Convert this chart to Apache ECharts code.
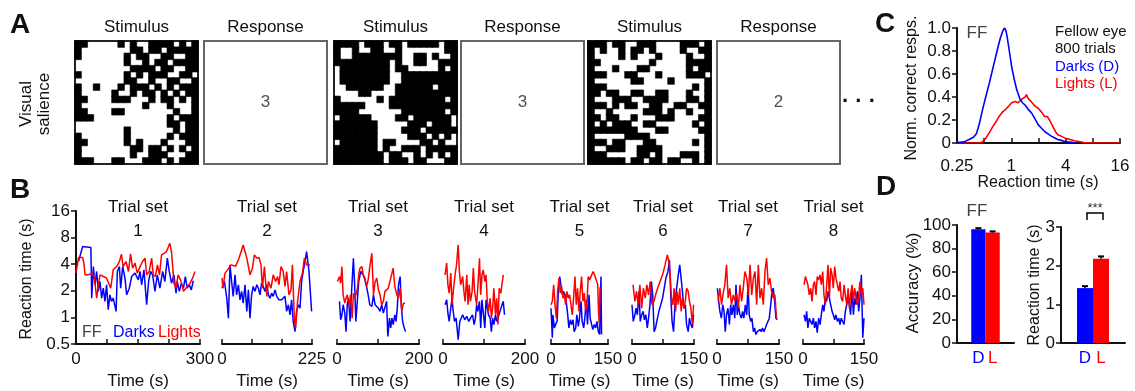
<!DOCTYPE html>
<html>
<head>
<meta charset="utf-8">
<script src="https://cdn.jsdelivr.net/npm/echarts@6.0.0/dist/echarts.min.js"></script>
<style>
  html, body { margin: 0; padding: 0; background: #fff; }
  #chart { width: 1135px; height: 391px; }
</style>
</head>
<body>
<div id="chart"></div>
<script>
// ---------- panel A: stimulus patterns (1 = black cell) and typed responses ----------
const stimulus1 = [
  "11000001010011110101", "10000000011011011111", "10000000101100110011", "00000000100101101111",
  "00000000011110110011", "10000000101011100110", "00000000110010011001", "10010001011101010111",
  "10000010010110101011", "11000011100010110101", "10000000000100010001", "11000011000000001001",
  "11100000000000010111", "00000000000000011011", "00000000100000001011", "10000000100000010111",
  "11000000101000100011", "10000000011011010101", "10000000010011100011", "11100011000111010111"
];
const stimulus2 = [
  "11110111011011111011", "10010011001000000011", "10011111111001101001", "11111111101001100111",
  "01111111101100000101", "01111111100111111111", "01111111100111111111", "00111111001111110111",
  "00001100001111111111", "10000001011111111101", "11111000011111111111", "11110000000111111101",
  "01111100001101111110", "11111110000011101110", "11111110000111011111", "11111110000011101010",
  "01111110110000110100", "11111110100111011111", "11111111011001010101", "11111111011101100011"
];
const stimulus3 = [
  "11101100111000011101", "10100101101000010011", "10000101000100001001", "11000000001000001111",
  "10001000110000001011", "11100011000100001110", "10000001100001000001", "11100000000000000101",
  "11011001100110001001", "10001110011110001101", "11101011001100110011", "10010000011101001001",
  "11011001000111000011", "10101110011000000101", "11111111000110000011", "10000011110000000001",
  "11101100011000000101", "10011100111100000001", "11100000110100011101", "11111101101101100101"
];
const responses = ["3", "3", "2"];

// ---------- panel B: reaction time (s) vs time (s) per trial set ----------
const trialSetDurations = [300, 225, 200, 200, 150, 150, 150, 150];
const trialSetTickSteps = [75, 75, 100, 100, 75, 75, 75, 75];

const darks1 = [[6,4.29],[16,6.33],[36,6.2],[38,1.65],[42,3.76],[46,2.34],[50,3.31],[54,1.97],[58,2.55],[62,1.65],[66,2.14],[70,1.52],[74,2.34],[78,1.22],[82,1.8],[86,1.52],[90,1.65],[97,1.17],[100,3.31],[105,3.76],[108,2.14],[113,3.76],[118.5,2.78],[122.5,1.8],[129,2.14],[134.6,2.9],[142.7,3.17],[150.7,2.66],[154.8,3.31],[158.8,2.34],[164.4,3.45],[170.9,1.39],[175.7,2.55],[180.5,3.31],[185.4,3.03],[191,1.97],[196.7,3.03],[203,2.14],[209.6,3.31],[215,2.55],[221,4.68],[225.7,3.31],[231,2.44],[237,3.03],[242,1.88],[245,2.55],[250,1.97],[255,2.44],[260,2.14],[264.5,2.9],[269,2.14],[274,2.34],[279,2.05],[283.7,2.6]];
const lights1 = [[0,3.17],[6,4.76],[16,4.76],[19,4.11],[22,3.03],[30,3.03],[38,3.17],[44,2.9],[50,1.65],[54,2.34],[58,3.03],[66,2.9],[74,2.78],[84,2.14],[90,3.45],[98,3.76],[105,4.29],[110,5.19],[114,3.76],[121,4.29],[127,3.31],[132,5.23],[137,3.61],[143,4.11],[148,3.17],[155,3.76],[161,4.29],[167,4.68],[171,3.03],[177,3.31],[183,4.68],[187,3.03],[192,2.9],[197,3.93],[202,3.03],[207,5.1],[213,5.32],[219,5.56],[227,6.9],[231,5.56],[237,2.44],[242,2.14],[247,3.03],[253,2.66],[260,1.97],[264,2.05],[269,2.24],[276,2.44],[282,2.78],[288,3.31]];

const darks2 = [[0,2.14],[6,2.55],[12,1.65],[16,0.98],[20,3.93],[24,2.55],[28,1.73],[32.5,3.03],[36.5,1.8],[41,2.34],[45,1.58],[49,1.97],[53,1.45],[57.5,2.34],[62,1.17],[66,2.05],[70,0.98],[74,1.8],[78,2.24],[82.5,1.97],[87,2.34],[91,2.14],[95,1.8],[99,2.44],[103,2.24],[107.5,1.97],[112,2.34],[116,1.8],[120,1.65],[124,1.88],[128,1.73],[132.5,2.05],[137,1.73],[142.5,1.58],[149,1.58],[153,1.52],[157.5,1.73],[161.5,1.17],[166,1.39],[170,1.07],[174,1.58],[178,0.9],[182.5,0.69],[186.5,1.17],[191,1.39],[195,1.27],[199,2.55],[203,3.31],[207.5,4.29],[211.5,5.56],[217.5,3.31],[224,1.17]];
const lights2 = [[0,2.8],[2.5,2.14],[7.5,3.17],[14,3.45],[22.5,3.93],[34,3.8],[42.5,4.68],[53,6.6],[62,4.68],[70,3.03],[76,3.61],[81,5.1],[87,4.68],[92.5,4.76],[97.5,3.93],[101,2.14],[106,3.76],[112,1.73],[116,2.55],[122.5,2.14],[128,3.03],[134,2.55],[139,2.9],[142.5,2.34],[147.5,3.76],[153,3.31],[157.5,2.24],[161.5,3.31],[167.5,1.8],[172.5,2.05],[176,3.93],[181,0.94],[184,0.76],[189,1.52],[195,2.55],[201,3.17],[206,4.68],[211.5,3.93],[220,3.93]];

const darks3 = [[6,1.52],[9,0.94],[12,1.07],[15,1.39],[19,1.12],[22,0.69],[25,1.39],[28,1.65],[32,0.9],[36,2.14],[40,4.68],[43,2.34],[46,0.9],[50,1.65],[53,2.55],[58,3.31],[61,3.45],[64,3.03],[68,2.66],[72,2.24],[76,1.8],[80,1.39],[85,1.33],[89,1.8],[93,1.39],[97,1.33],[101,1.27],[105,1.17],[109,1.39],[113,1.12],[117,1.17],[121,1.52],[124,0.61],[128,0.98],[131,0.76],[134,0.98],[137,0.83],[141,1.07],[144,0.9],[147,1.27],[150,2.34],[154,2.9],[157,1.33],[160,0.9],[163,0.79],[167,0.69]];
const lights3 = [[1,2.55],[6,2.9],[9,2.44],[12,3.76],[15,1.8],[19,1.45],[22,1.65],[25,1.8],[30,1.39],[33,1.8],[37,0.98],[40,1.88],[43,1.65],[46,1.8],[50,2.14],[53,3.03],[56,3.61],[61,3.76],[64,3.03],[68,2.78],[72,2.24],[76,2.66],[80,3.76],[85,5.32],[89,1.8],[93,2.55],[97,2.78],[101,2.05],[105,1.8],[109,1.39],[113,1.52],[117,1.97],[121,1.88],[125,2.14],[129,2.24],[133,3.03],[137,3.61],[141,2.24],[146,1.8],[150,1.65],[154,2.14],[158,1.17],[162,1.45],[166,1.45]];

const darks4 = [[5,1.39],[9,1.58],[12,1.12],[15,0.9],[19,1.27],[22,1.65],[25,1.17],[28,0.9],[32,0.98],[37,0.56],[41,0.9],[48,1.07],[53,0.94],[58,1.03],[63,0.9],[67,0.98],[72,1.07],[76,0.83],[79,0.98],[82,1.39],[85,1.17],[89,1.52],[92,0.76],[95,1.58],[98,1.65],[102,0.76],[105,1.58],[108,1.65],[111,1.07],[115,0.98],[118,0.69],[121,0.98],[124,0.83],[128,1.07],[131,0.9],[134,0.98],[139,1.17],[144,1.39],[147,1.52],[150,1.07]];
const lights4 = [[5,3.03],[9,4.11],[12,2.34],[15,1.88],[19,3.17],[22,1.39],[25,1.97],[30,3.17],[33,3.93],[37,6.61],[40,3.31],[43,2.34],[48,2.9],[51,1.97],[54,1.52],[58,3.03],[61,1.39],[64,2.34],[67,1.52],[71,1.97],[74,3.61],[77,1.97],[82,1.39],[85,2.24],[89,4.68],[92,1.8],[95,3.03],[98,3.45],[102,2.55],[105,3.03],[108,1.52],[111,1.17],[115,1.65],[118,0.98],[121,1.27],[124,2.14],[128,1.07],[131,1.65],[134,0.83],[137,2.14],[141,1.88],[144,1.97],[147,3.03]];

const darks5 = [[0,1.27],[3.5,0.59],[5,1.07],[9,0.76],[12,0.83],[16,0.9],[19,1.8],[23,2.9],[26,2.34],[30,1.8],[33,1.97],[37,1.8],[40,1.52],[44,1.07],[47,0.76],[51,0.94],[54,0.83],[58,0.94],[61,0.69],[65,0.76],[68,1.07],[72,0.79],[75,0.98],[79,1.52],[82,0.9],[86,0.76],[89,0.98],[93,1.58],[96,0.83],[100,1.8],[103,0.98],[107,0.83],[110,0.73],[114,0.83],[117.5,0.76],[121,0.9],[124.5,0.69],[128,0.64],[131.5,2.9],[133,0.64]];
const lights5 = [[0,1.39],[3.5,1.52],[7,2.34],[10.5,1.39],[14,0.98],[17.5,1.97],[21,2.78],[24.5,1.88],[28,2.24],[31.5,1.65],[35,1.8],[38.5,1.39],[42,1.97],[45.5,1.65],[49,1.8],[52.5,1.39],[56,1.07],[59.5,1.65],[63,2.9],[66.5,1.39],[70,2.14],[73.5,1.17],[77,1.97],[80.5,2.9],[84,1.52],[87.5,1.88],[91,1.17],[94.5,1.39],[98,2.9],[101.5,2.66],[107,3.03],[111,3.31],[116,2.9],[120,2.78],[123,2.34],[125,1.2],[127,0.85],[129,2.2]];

const darks6 = [[0,1.39],[3,0.9],[7,1.07],[10,1.27],[13,1.07],[17,1.97],[20,0.9],[23.5,1.07],[27,1.17],[30,0.94],[33.5,1.07],[37,0.76],[40,0.98],[43.5,1.39],[47,2.55],[50,1.8],[53.5,0.69],[57,0.76],[60,0.9],[65,1.17],[74,1.65],[82,2.78],[87,3.31],[90.5,4.48],[94,1.65],[97,0.9],[100.5,0.69],[104,1.39],[107,1.97],[112,3.03],[115.5,3.93],[119,4.11],[122,1.97],[125.5,1.27],[129,1.39],[132,0.83],[136,0.69],[139,0.98],[142.5,0.83],[146,0.76],[149,1.07]];
const lights6 = [[2.5,2.34],[7,1.52],[11,1.97],[15,1.39],[19,2.34],[23.5,1.27],[27.5,2.14],[32,1.65],[36,2.34],[40,1.8],[44,2.55],[48.5,1.39],[53,1.52],[57,1.8],[65,2.34],[74,3.03],[80,3.93],[85.5,5.1],[89,4.29],[92,3.31],[95.5,1.65],[99,1.39],[102,2.14],[105.5,1.17],[109,1.97],[112,1.39],[115.5,2.14],[119,1.17],[122,1.65],[125.5,1.27],[129,1.52],[132,2.14],[136,1.97],[139,1.52],[142.5,1.27],[146,0.83],[149,1.39]];

const darks7 = [[1,2.14],[4,1.52],[7,1.17],[10.5,0.98],[14,1.39],[17,1.17],[20,0.69],[23,1.07],[26.5,1.27],[30,0.83],[33,1.39],[36,1.07],[39.5,1.39],[43,0.98],[46,2.34],[49,1.07],[52,1.39],[55.5,1.07],[59,0.98],[62,1.17],[65,0.98],[68.5,1.39],[72,1.07],[75,2.34],[78,1.07],[81.5,0.9],[84.5,0.98],[88,0.69],[91,0.76],[94,0.64],[97.5,0.69],[101,0.67],[104,0.73],[107,0.69],[110,0.76],[113.5,0.69],[117,0.76],[120,0.83],[123,0.86],[126.5,0.98],[130,1.39],[133,1.97],[136,2.14],[139.5,1.52],[142.5,0.98],[146,0.94]];
const lights7 = [[3,1.52],[7,2.14],[11,1.39],[15,1.88],[19,2.34],[23,3.93],[27,1.65],[31,2.14],[35,1.39],[39.5,1.8],[43.5,1.52],[47.5,1.88],[51.5,1.27],[55.5,2.34],[59.5,1.52],[63.5,2.14],[67.5,3.31],[72,2.78],[76,1.8],[80,3.93],[84,1.8],[88,2.78],[92,3.31],[96,1.39],[100,3.93],[104,1.65],[108,2.14],[112,1.39],[116,3.31],[120,4.68],[124,2.34],[128,2.78],[132,1.97],[136,1.65],[140,1.8],[144,0.98]];

const darks8 = [[2.5,1.07],[6,0.9],[9,1.17],[12,0.76],[15.5,0.98],[19,0.9],[22,0.83],[25.5,0.98],[28.5,0.76],[32,0.9],[35,0.67],[38.5,0.98],[42,0.83],[45,1.07],[48.5,1.39],[51.5,1.17],[55,1.65],[58,1.52],[61.5,1.97],[65,1.65],[68,1.39],[71.5,1.17],[74.5,1.07],[78,0.94],[81,1.07],[84.5,0.9],[88,0.98],[91,0.83],[94,0.98],[97.5,0.9],[101,0.83],[104,1.17],[107.5,1.39],[111,1.65],[114,1.39],[117,1.07],[120.5,2.14],[124,1.07],[127,1.65],[130.5,1.39],[133.5,1.97],[137,1.17],[140,1.65],[143.5,3.03],[147,0.59],[150,0.98]];
const lights8 = [[2.5,2.34],[6,2.9],[9,3.03],[12,2.34],[15.5,1.8],[19,2.14],[22,1.52],[25.5,2.34],[28.5,2.55],[32,1.8],[35,2.9],[38.5,2.66],[42,3.03],[45,2.34],[48.5,3.31],[51.5,1.8],[55,1.39],[58,2.24],[61.5,3.93],[65,1.65],[68,3.61],[71.5,3.03],[74.5,2.14],[78,3.76],[81,2.78],[84.5,2.34],[88,1.97],[91,2.55],[94,1.65],[97.5,1.52],[101,2.34],[104,1.8],[107.5,1.39],[111,2.14],[114,1.27],[117,1.8],[120.5,2.34],[124,1.52],[127,2.14],[130.5,1.65],[133.5,1.39],[137,1.8],[140,2.55],[143.5,1.8],[147,2.14],[150,1.39]];

// ---------- panel C: normalised correct responses vs reaction time (s) ----------
const distDarks = [[0.25,0.005],[0.3,0.01],[0.34,0.03],[0.38,0.05],[0.41,0.08],[0.44,0.16],[0.48,0.29],[0.52,0.4],[0.57,0.52],[0.62,0.64],[0.67,0.75],[0.72,0.85],[0.76,0.92],[0.8,0.97],[0.84,1.0],[0.87,0.98],[0.9,0.92],[0.95,0.8],[1.01,0.66],[1.08,0.55],[1.15,0.46],[1.25,0.38],[1.33,0.35],[1.42,0.33],[1.55,0.29],[1.68,0.26],[1.83,0.21],[1.98,0.16],[2.15,0.13],[2.34,0.1],[2.55,0.08],[2.77,0.06],[3.0,0.045],[3.26,0.03],[3.5,0.025],[3.85,0.015],[4.2,0.01],[4.5,0.008],[5.2,0.0]];
const distLights = [[0.25,0],[0.45,0],[0.48,0.01],[0.52,0.04],[0.57,0.09],[0.62,0.14],[0.67,0.18],[0.73,0.23],[0.8,0.27],[0.86,0.29],[0.93,0.32],[1.01,0.35],[1.1,0.36],[1.19,0.35],[1.3,0.38],[1.42,0.4],[1.47,0.42],[1.53,0.39],[1.6,0.38],[1.7,0.35],[1.83,0.32],[2.0,0.3],[2.2,0.26],[2.34,0.23],[2.5,0.23],[2.65,0.2],[2.77,0.17],[2.95,0.13],[3.13,0.09],[3.3,0.07],[3.55,0.06],[4.0,0.04],[4.5,0.03],[5.0,0.02],[5.4,0.015],[6.4,0.005],[7.5,0],[16,0]];

// ---------- panel D: accuracy and mean reaction time ----------
const conditions = ["D", "L"];
const accuracyMean = [96.3, 93.6];
const accuracySem = [1.0, 1.0];
const rtMean = [1.42, 2.18];
const rtSem = [0.05, 0.06];

const BLUE = "#0000ff";
const RED = "#ff0000";
const INK = "#111";
const FONT = '"Liberation Sans", Arial, Helvetica, sans-serif';

const chart = echarts.init(document.getElementById("chart"), null, { renderer: "canvas" });

const grids = [];
const xAxes = [];
const yAxes = [];
const series = [];
const graphics = [];

function text(str, x, y, opt) {
  opt = opt || {};
  return {
    type: "text", x, y, silent: true,
    rotation: opt.rotate ? Math.PI / 2 : 0,
    style: {
      text: str,
      font: (opt.bold ? "bold " : "") + (opt.size || 17) + "px " + FONT,
      fill: opt.color || INK,
      align: opt.align || "center",
      verticalAlign: "middle"
    }
  };
}

// ---- A ----
const boxLefts = [75, 204, 334, 461, 588, 717];
const boxTop = 41, boxSize = 123;
const stimuli = [stimulus1, stimulus2, stimulus3];
const cellIdx = Array.from({ length: 20 }, (_, i) => i);
const heatmapSeries = [];
boxLefts.forEach((left, i) => {
  const isStim = i % 2 === 0;
  const gi = grids.length;
  grids.push({
    left, top: boxTop, width: boxSize, height: boxSize, show: true,
    backgroundColor: "#fff", borderColor: isStim ? "#222" : "#666", borderWidth: 2
  });
  graphics.push(text(isStim ? "Stimulus" : "Response", left + boxSize / 2, 27));
  if (isStim) {
    xAxes.push({ type: "category", gridIndex: gi, data: cellIdx, show: false });
    yAxes.push({ type: "category", gridIndex: gi, data: cellIdx, inverse: true, show: false });
    const cells = [];
    stimuli[i / 2].forEach((row, r) => {
      row.split("").forEach((c, col) => { if (c === "1") cells.push([col, r, 1]); });
    });
    heatmapSeries.push(series.length);
    series.push({
      type: "heatmap", xAxisIndex: gi, yAxisIndex: gi, data: cells,
      itemStyle: { color: "#000", borderColor: "#000", borderWidth: 0.6 },
      emphasis: { disabled: true }, z: 1
    });
  } else {
    xAxes.push({ type: "value", gridIndex: gi, min: 0, max: 1, show: false });
    yAxes.push({ type: "value", gridIndex: gi, min: 0, max: 1, show: false });
    series.push({
      type: "scatter", xAxisIndex: gi, yAxisIndex: gi, data: [[0.5, 0.5]],
      symbolSize: 1, itemStyle: { color: "transparent" }, silent: true,
      label: {
        show: true, position: "inside", formatter: responses[(i - 1) / 2],
        fontSize: 17, fontFamily: FONT, color: "#222"
      }
    });
  }
});

// ---- B ----
const darksSets = [darks1, darks2, darks3, darks4, darks5, darks6, darks7, darks8];
const lightsSets = [lights1, lights2, lights3, lights4, lights5, lights6, lights7, lights8];
const bLefts = [76, 222, 337, 443, 551, 632, 717, 803];
const bWidths = [124, 90, 82, 82, 57, 62, 62, 61];
const bTop = 211, bHeight = 133;
trialSetDurations.forEach((dur, i) => {
  const gi = grids.length;
  grids.push({ left: bLefts[i], top: bTop, width: bWidths[i], height: bHeight });
  xAxes.push({
    type: "value", gridIndex: gi, min: 0, max: dur, interval: trialSetTickSteps[i],
    axisLine: { lineStyle: { color: INK, width: 2 } },
    axisTick: { inside: true, length: 5, lineStyle: { color: INK, width: 1.5 } },
    axisLabel: {
      formatter: (v) => (v === 0 || v === dur ? String(v) : ""),
      fontSize: 17, fontFamily: FONT, color: INK, margin: 7
    },
    splitLine: { show: false }
  });
  yAxes.push({
    type: "log", logBase: 2, gridIndex: gi, min: 0.5, max: 16, show: i === 0,
    axisLine: { show: true, lineStyle: { color: INK, width: 2 } },
    axisTick: { show: true, length: 5, lineStyle: { color: INK, width: 1.5 } },
    axisLabel: { fontSize: 17, fontFamily: FONT, color: INK, margin: 6 },
    splitLine: { show: false }
  });
  const cx = bLefts[i] + bWidths[i] / 2;
  graphics.push(text("Trial set", cx, 207));
  graphics.push(text(String(i + 1), cx, 231));
  graphics.push(text("Time (s)", cx, 381));
  series.push({
    type: "line", xAxisIndex: gi, yAxisIndex: gi, data: darksSets[i], showSymbol: false,
    lineStyle: { color: BLUE, width: 1.5 }, itemStyle: { color: BLUE }, silent: true
  });
  series.push({
    type: "line", xAxisIndex: gi, yAxisIndex: gi, data: lightsSets[i], showSymbol: false,
    lineStyle: { color: RED, width: 1.5 }, itemStyle: { color: RED }, silent: true
  });
});

// ---- C ----
{
  const gi = grids.length;
  grids.push({ left: 957, top: 28, width: 163, height: 115 });
  xAxes.push({
    type: "log", logBase: 2, gridIndex: gi, min: 0.25, max: 16, offset: 9,
    axisLine: { lineStyle: { color: INK, width: 2 } },
    axisTick: { inside: true, length: 5, lineStyle: { color: INK, width: 1.5 } },
    axisLabel: {
      formatter: (v) => ([0.25, 1, 4, 16].indexOf(+v) >= 0 ? String(v) : ""),
      fontSize: 17, fontFamily: FONT, color: INK, margin: 6
    },
    splitLine: { show: false }
  });
  yAxes.push({
    type: "value", gridIndex: gi, min: 0, max: 1, interval: 0.2,
    axisLine: { show: true, lineStyle: { color: INK, width: 2 } },
    axisTick: { show: true, length: 5, lineStyle: { color: INK, width: 1.5 } },
    axisLabel: {
      formatter: (v) => (v === 0 ? "0" : v.toFixed(1)),
      fontSize: 17, fontFamily: FONT, color: INK, margin: 6
    },
    splitLine: { show: false }
  });
  series.push({
    type: "line", xAxisIndex: gi, yAxisIndex: gi, data: distLights, showSymbol: false,
    lineStyle: { color: RED, width: 1.6 }, silent: true
  });
  series.push({
    type: "line", xAxisIndex: gi, yAxisIndex: gi, data: distDarks, showSymbol: false,
    lineStyle: { color: BLUE, width: 1.6 }, silent: true
  });
}

// ---- D ----
function errorBars(gi, means, sems) {
  return {
    type: "custom", xAxisIndex: gi, yAxisIndex: gi, silent: true, z: 5,
    data: means.map((m, k) => [k + 1, m, sems[k]]),
    renderItem(params, api) {
      const x = api.value(0), m = api.value(1), e = api.value(2);
      const p0 = api.coord([x, m]);
      const p1 = api.coord([x, m + e]);
      return {
        type: "group",
        children: [
          { type: "line", shape: { x1: p0[0], y1: p0[1], x2: p1[0], y2: p1[1] }, style: { stroke: "#000", lineWidth: 1.5 } },
          { type: "line", shape: { x1: p1[0] - 3, y1: p1[1], x2: p1[0] + 3, y2: p1[1] }, style: { stroke: "#000", lineWidth: 2 } }
        ]
      };
    }
  };
}
const dCats = [""].concat(conditions, [""]);
const dColors = [BLUE, RED];
[
  { left: 957, top: 225, width: 57, height: 118, max: 100, interval: 20, means: accuracyMean, sems: accuracySem },
  { left: 1061, top: 227, width: 64, height: 116, max: 3, interval: 1, means: rtMean, sems: rtSem }
].forEach((p) => {
  const gi = grids.length;
  grids.push({ left: p.left, top: p.top, width: p.width, height: p.height });
  xAxes.push({
    type: "category", gridIndex: gi, data: dCats,
    axisLine: { lineStyle: { color: INK, width: 2 } },
    axisTick: { show: false },
    axisLabel: {
      interval: 0, fontSize: 17, fontFamily: FONT, margin: 7,
      color: (v) => (v === "D" ? BLUE : RED)
    }
  });
  yAxes.push({
    type: "value", gridIndex: gi, min: 0, max: p.max, interval: p.interval,
    axisLine: { show: true, lineStyle: { color: INK, width: 2 } },
    axisTick: { show: true, length: 5, lineStyle: { color: INK, width: 1.5 } },
    axisLabel: { fontSize: 17, fontFamily: FONT, color: INK, margin: 6 },
    splitLine: { show: false }
  });
  series.push({
    type: "bar", xAxisIndex: gi, yAxisIndex: gi, barWidth: "100%", silent: true,
    data: ["-"].concat(p.means.map((m, k) => ({ value: m, itemStyle: { color: dColors[k] } })), ["-"])
  });
  series.push(errorBars(gi, p.means, p.sems));
});

// ---- annotation text ----
graphics.push(text("A", 10, 25, { bold: true, size: 28, align: "left" }));
graphics.push(text("B", 10, 190, { bold: true, size: 28, align: "left" }));
graphics.push(text("C", 875, 24, { bold: true, size: 28, align: "left" }));
graphics.push(text("D", 876, 187, { bold: true, size: 28, align: "left" }));
graphics.push(text("Visual", 26, 104, { rotate: true }));
graphics.push(text("salience", 44, 104, { rotate: true }));
graphics.push(text("· · ·", 859, 102, { size: 22, bold: true }));
graphics.push(text("Reaction time (s)", 27, 279, { rotate: true, size: 16 }));
graphics.push(text("FF", 82, 333, { align: "left", color: "#444", size: 16 }));
graphics.push(text("Darks", 113, 333, { align: "left", color: BLUE, size: 16 }));
graphics.push(text("Lights", 158, 333, { align: "left", color: RED, size: 16 }));
graphics.push(text("FF", 977, 33, { color: "#444" }));
graphics.push(text("Fellow eye", 1055, 32, { align: "left", size: 15 }));
graphics.push(text("800 trials", 1055, 49, { align: "left", size: 15 }));
graphics.push(text("Darks (D)", 1055, 67, { align: "left", size: 15, color: BLUE }));
graphics.push(text("Lights (L)", 1055, 84, { align: "left", size: 15, color: RED }));
graphics.push(text("Norm. correct resps.", 912, 88, { rotate: true, size: 16 }));
graphics.push(text("Reaction time (s)", 1038, 183, { size: 16 }));
graphics.push(text("FF", 977, 211, { color: "#444" }));
graphics.push(text("Accuracy (%)", 913, 283, { rotate: true }));
graphics.push(text("Reaction time (s)", 1035, 285, { rotate: true, size: 16 }));
graphics.push(text("***", 1095, 208, { size: 13, color: "#333" }));
graphics.push({
  type: "polyline", silent: true,
  shape: { points: [[1087, 220], [1087, 213], [1103, 213], [1103, 220]] },
  style: { stroke: "#000", lineWidth: 1.5, fill: null }
});

chart.setOption({
  animation: false,
  backgroundColor: "#fff",
  textStyle: { fontFamily: FONT },
  grid: grids,
  xAxis: xAxes,
  yAxis: yAxes,
  visualMap: {
    type: "piecewise", show: false, seriesIndex: heatmapSeries, dimension: 2,
    pieces: [{ value: 1, color: "#000" }]
  },
  series,
  graphic: graphics
});
</script>
</body>
</html>
